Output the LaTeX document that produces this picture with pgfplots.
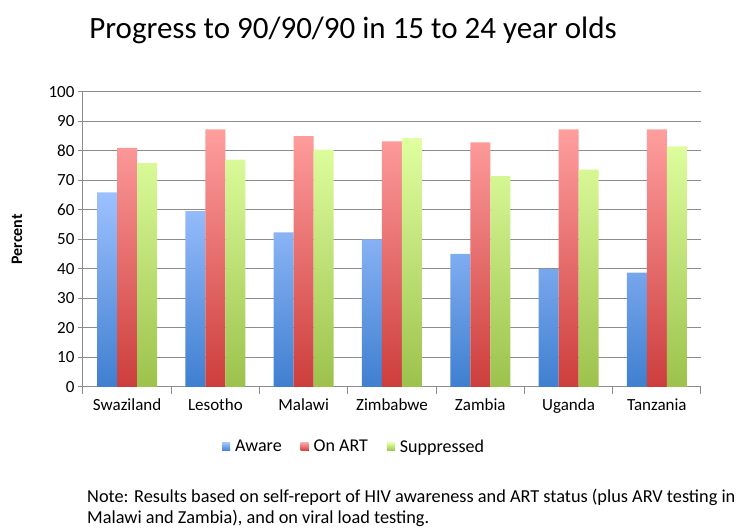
\documentclass[border=0pt]{standalone}
\usepackage{pgfplots}
\pgfplotsset{compat=1.18}
\usepackage{fontspec}
\setmainfont{Carlito}
\definecolor{gridgray}{HTML}{8C8C8C}
\definecolor{blueB}{HTML}{3F7FD0}
\definecolor{blueT}{HTML}{9DC1FF}
\definecolor{redB}{HTML}{CC3E3C}
\definecolor{redT}{HTML}{FF9E9E}
\definecolor{greenB}{HTML}{9CC24C}
\definecolor{greenT}{HTML}{E0FFA0}
\begin{document}
\begin{tikzpicture}
\begin{axis}[
  at={(0,0)}, anchor=south west,
  scale only axis, width=618pt, height=295pt,
  ybar=0pt, bar width=20pt,
  xmin=-0.5, xmax=6.5, ymin=0, ymax=100,
  xtick={0,1,2,3,4,5,6},
  xticklabels={Swaziland,Lesotho,Malawi,Zimbabwe,Zambia,Uganda,Tanzania},
  minor xtick={-0.5,0.5,1.5,2.5,3.5,4.5,5.5,6.5},
  ytick={0,10,...,100},
  axis x line*=bottom, axis y line*=left,
  axis line style={gridgray, line width=1pt},
  ymajorgrids, grid style={gridgray, line width=1pt},
  major x tick style={draw=none},
  minor x tick style={gridgray, line width=1pt},
  major y tick style={gridgray, line width=1pt},
  tick align=outside,
  major tick length=5pt, minor tick length=7pt,
  tick label style={font=\fontsize{17}{20}\selectfont},
  /pgf/number format/assume math mode=true,
  xticklabel style={yshift=-3pt},
  yticklabel style={xshift=0pt},
  ylabel={\bfseries Percent},
  ylabel style={at={(axis description cs:-0.107,0.5)}, anchor=center, font=\fontsize{16}{18}\selectfont},
  legend style={at={(axis description cs:0.441,-0.203)}, anchor=center, draw=none, legend columns=3,
    font=\fontsize{18}{20}\selectfont, nodes={inner xsep=5pt},
    /tikz/every even column/.append style={column sep=14pt}},
  legend image code/.code={\fill[#1] (0pt,-4pt) rectangle (8pt,4pt);},
]
\addplot[draw=none, top color=blueT, bottom color=blueB] coordinates {(0,66) (1,59.6) (2,52.4) (3,50) (4,45.1) (5,40) (6,38.8)};
\addplot[draw=none, top color=redT, bottom color=redB] coordinates {(0,81.1) (1,87.3) (2,85) (3,83.3) (4,82.9) (5,87.3) (6,87.3)};
\addplot[draw=none, top color=greenT, bottom color=greenB] coordinates {(0,76) (1,77.1) (2,80.5) (3,84.4) (4,71.5) (5,73.7) (6,81.6)};
\legend{Aware, On ART, Suppressed}
\end{axis}
\path (-83pt,-145pt) rectangle (654pt,387pt);
\node[font=\fontsize{31}{36}\selectfont] at (270pt,357pt) {Progress to 90/90/90 in 15 to 24 year olds};
\node[anchor=west, align=left, font=\fontsize{18.3}{21}\selectfont, inner sep=0pt] at (4pt,-120.5pt)
  {Note: Results based on self-report of HIV awareness and ART status (plus ARV testing in\\Malawi and Zambia), and on viral load testing.};
\end{tikzpicture}
\end{document}
